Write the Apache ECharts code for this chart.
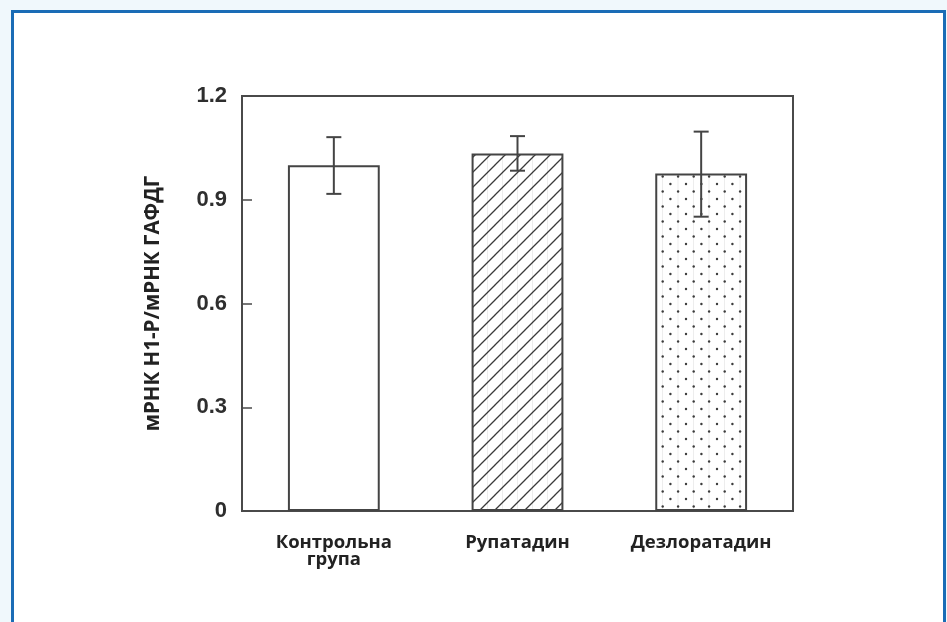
<!DOCTYPE html>
<html>
<head>
<meta charset="utf-8">
<script src="https://cdn.jsdelivr.net/npm/echarts@6/dist/echarts.min.js"></script>
<style>
  html, body { margin: 0; padding: 0; background: #f0f8fc; width: 947px; height: 622px; overflow: hidden; }
  #frame { position: absolute; left: 11px; top: 10px; width: 929px; height: 700px; border: 3px solid #1a6cb6; background: #ffffff; }
  #chart { position: absolute; left: 0; top: 0; width: 947px; height: 622px; }
</style>
</head>
<body>
<div id="frame"></div>
<div id="chart"></div>
<script>
// ---- data ----
const categories = ['Контрольна\nгрупа', 'Рупатадин', 'Дезлоратадин'];
const means = [1.0, 1.034, 0.976];
const errLow = [0.917, 0.984, 0.851];
const errHigh = [1.081, 1.084, 1.097];
const yTicks = [0, 0.3, 0.6, 0.9, 1.2];
const yAxisTitle = 'мРНК Н1-Р/мРНК ГАФДГ';

// ---- patterns ----
function hatchPattern() {
  const s = 15;
  const c = document.createElement('canvas');
  c.width = s; c.height = s;
  const g = c.getContext('2d');
  g.fillStyle = '#ffffff'; g.fillRect(0, 0, s, s);
  g.strokeStyle = '#3a3a3a'; g.lineWidth = 1.3;
  g.beginPath();
  g.moveTo(-2, s + 2); g.lineTo(s + 2, -2);
  g.moveTo(-2, 2); g.lineTo(2, -2);
  g.moveTo(s - 2, s + 2); g.lineTo(s + 2, s - 2);
  g.stroke();
  g.strokeStyle = 'rgba(0,0,0,0.07)'; g.lineWidth = 1;
  g.beginPath(); g.moveTo(7.5, 0); g.lineTo(7.5, s); g.stroke();
  return c;
}
function dotPattern() {
  const c = document.createElement('canvas');
  c.width = 31; c.height = 30;
  const g = c.getContext('2d');
  g.fillStyle = '#ffffff'; g.fillRect(0, 0, 31, 30);
  g.strokeStyle = 'rgba(0,0,0,0.07)'; g.lineWidth = 1;
  g.beginPath(); g.moveTo(11.5, 0); g.lineTo(11.5, 30); g.moveTo(27, 0); g.lineTo(27, 30); g.stroke();
  g.fillStyle = '#3c3c3c';
  const pts = [[4, 4], [11.7, 11.5], [19.4, 4], [27.1, 11.5], [4, 19], [11.7, 26.5], [19.4, 19], [27.1, 26.5]];
  pts.forEach(p => { g.beginPath(); g.arc(p[0], p[1], 1.2, 0, Math.PI * 2); g.fill(); });
  return c;
}

const fills = [
  '#ffffff',
  { image: hatchPattern(), repeat: 'repeat' },
  { image: dotPattern(), repeat: 'repeat' }
];

const chart = echarts.init(document.getElementById('chart'), null, { renderer: 'canvas' });
const axisColor = '#4a4a4a';

chart.setOption({
  backgroundColor: 'transparent',
  animation: false,
  grid: { left: 242, right: 154, top: 96, bottom: 111, show: true, borderColor: axisColor, borderWidth: 2, backgroundColor: 'transparent' },
  xAxis: {
    type: 'category',
    data: categories,
    axisLine: { lineStyle: { color: axisColor, width: 2 } },
    axisTick: { inside: true, length: 10, lineStyle: { color: axisColor, width: 1.5 } },
    axisLabel: { margin: 23, color: '#222222', fontFamily: 'Open Sans', fontWeight: 'bold', fontSize: 18.5, lineHeight: 17 },
    splitLine: { show: false }
  },
  yAxis: {
    type: 'value',
    min: yTicks[0],
    max: yTicks[yTicks.length - 1],
    interval: 0.3,
    name: yAxisTitle,
    nameLocation: 'middle',
    nameRotate: 90,
    nameGap: 78,
    nameTextStyle: { color: '#222222', fontFamily: 'Open Sans', fontWeight: 'bold', fontSize: 20.5 },
    axisLine: { show: true, lineStyle: { color: axisColor, width: 2 } },
    axisTick: { show: true, inside: true, length: 10, lineStyle: { color: axisColor, width: 1.5 } },
    axisLabel: { margin: 15, color: '#2e2e2e', fontFamily: 'Liberation Sans', fontWeight: 'bold', fontSize: 22,
      formatter: v => String(Math.round(v * 10) / 10) },
    splitLine: { show: false }
  },
  series: [
    {
      type: 'bar',
      barWidth: '50%',
      data: means.map((v, i) => ({ value: v, itemStyle: { color: fills[i], borderColor: '#444', borderWidth: 2 } })),
      z: 2
    },
    {
      type: 'custom',
      z: 5,
      data: means.map((v, i) => [i, errLow[i], errHigh[i]]),
      renderItem: function (params, api) {
        const lo = api.coord([api.value(0), api.value(1)]);
        const hi = api.coord([api.value(0), api.value(2)]);
        const hw = 7.5;
        const st = { stroke: '#444', lineWidth: 2, fill: null };
        return {
          type: 'group',
          children: [
            { type: 'line', shape: { x1: hi[0], y1: hi[1], x2: lo[0], y2: lo[1] }, style: st },
            { type: 'line', shape: { x1: hi[0] - hw, y1: hi[1], x2: hi[0] + hw, y2: hi[1] }, style: st },
            { type: 'line', shape: { x1: lo[0] - hw, y1: lo[1], x2: lo[0] + hw, y2: lo[1] }, style: st }
          ]
        };
      }
    }
  ]
});
</script>
</body>
</html>
